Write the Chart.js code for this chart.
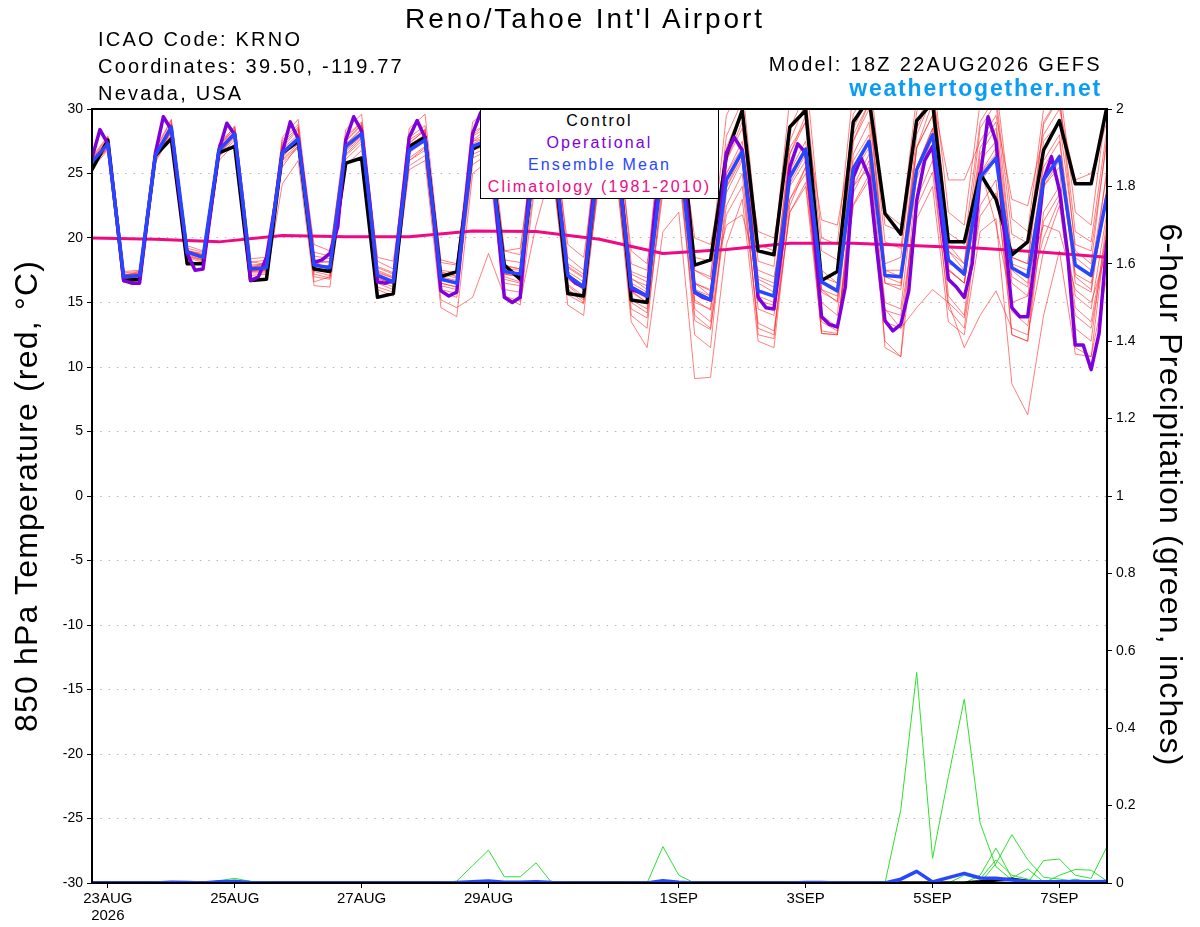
<!DOCTYPE html>
<html>
<head>
<meta charset="utf-8">
<title>Reno/Tahoe Int'l Airport - GEFS 850 hPa Temperature</title>
<script src="https://cdn.jsdelivr.net/npm/chart.js@4.4.1/dist/chart.umd.min.js"></script>
<style>
  html, body { margin: 0; padding: 0; background: #fff; }
  #wrap { position: relative; width: 1200px; height: 927px; overflow: hidden; font-family: 'Liberation Sans', Arial, sans-serif; }
  #chart { position: absolute; left: 0; top: 0; }
  .txt { position: absolute; white-space: nowrap; color: #000; line-height: 1; }
  #title { left: 335px; width: 500px; top: 4.6px; font-size: 28px; letter-spacing: 2.9px; text-align: center; }
  .info { left: 98px; font-size: 20px; letter-spacing: 2.2px; }
  #model { right: 98px; top: 54px; font-size: 20px; letter-spacing: 2.3px; text-align: right; }
  #site { right: 98px; top: 77px; font-size: 23px; font-weight: bold; letter-spacing: 1.8px; color: #0a9df5; text-align: right; }
  #legend { position: absolute; left: 480px; top: 109px; width: 237px; height: 88px; background: #fff; border: 1px solid #000; font-size: 16px; letter-spacing: 2.1px; text-align: center; }
  #legend div { height: 22px; line-height: 22px; }
  .axt { position: absolute; width: 700px; height: 40px; line-height: 40px; font-size: 32px; letter-spacing: 1.2px; text-align: center; white-space: nowrap; }
  #ytitle { left: -324px; top: 476px; transform: rotate(-90deg); }
  #y1title { left: 821px; top: 475px; transform: rotate(90deg); }
</style>
</head>
<body>
<div id="wrap">
  <canvas id="chart" width="1200" height="927"></canvas>
  <div id="title" class="txt">Reno/Tahoe Int'l Airport</div>
  <div class="txt info" style="top:28.8px">ICAO Code: KRNO</div>
  <div class="txt info" style="top:55.8px">Coordinates: 39.50, -119.77</div>
  <div class="txt info" style="top:83.1px">Nevada, USA</div>
  <div id="model" class="txt">Model: 18Z 22AUG2026 GEFS</div>
  <div id="site" class="txt">weathertogether.net</div>
  <div id="legend">
    <div style="color:#000">Control</div>
    <div style="color:#8000dc">Operational</div>
    <div style="color:#2846ff">Ensemble Mean</div>
    <div style="color:#ee0a82">Climatology (1981-2010)</div>
  </div>
  <div id="ytitle" class="axt">850 hPa Temperature (red, °C)</div>
  <div id="y1title" class="axt">6-hour Precipitation (green, inches)</div>
</div>
<script>
// x axis: hours after 18Z 22AUG2026
const xTickHours = [6, 54, 102, 150, 222, 270, 318, 366];
const xTickLabels = [['23AUG', '2026'], '25AUG', '27AUG', '29AUG', '1SEP', '3SEP', '5SEP', '7SEP'];

// 6-hourly 850 hPa temperature (C)
const tempControl = [
  25.3,27.6,16.7,16.8, 26.4,27.7,18.0,18.0, 26.6,27.1,16.7,16.8, 26.6,27.5,17.6,17.4,
  25.8,26.2,15.4,15.7, 27.1,27.8,17.0,17.4, 26.9,27.5,17.9,16.8, 27.2,27.8,15.7,15.5,
  27.5,28.5,15.2,15.0, 28.5,29.8,17.9,18.3, 26.4,29.9,19.0,18.7, 28.6,29.9,16.7,17.4,
  29.0,30.8,21.9,20.3, 29.1,30.5,19.7,19.7, 25.0,23.0,18.7,19.7, 26.8,29.1,24.2,24.2,
  30.2
];
const tempMean = [
  25.9,27.3,17.0,17.1, 26.4,28.6,18.9,18.5, 26.8,28.1,17.6,17.7, 26.6,27.7,17.9,17.7,
  27.1,28.1,17.1,16.6, 26.8,27.6,16.8,16.5, 27.1,27.6,17.4,17.2, 27.0,27.6,17.1,16.2,
  26.6,27.5,16.2,15.5, 26.0,27.2,15.8,15.2, 24.5,26.7,15.9,15.5, 24.7,26.9,16.6,15.9,
  25.4,27.5,17.1,17.0, 25.3,28.0,18.3,17.2, 24.7,26.2,17.7,17.0, 24.5,26.3,17.9,17.1,
  23.3
];
// operational run is 3-hourly
const tempOper = [
  26.2,28.4,27.3,22.2,16.7,16.5,16.5,21.6,
  26.6,29.4,28.4,23.4,18.8,17.5,17.6,22.2,
  26.8,28.9,28.0,22.9,16.7,17.0,18.5,22.2,
  26.6,29.0,27.7,22.9,18.1,18.3,18.8,20.9,
  27.6,29.4,28.3,22.9,16.6,16.5,16.7,22.2,
  27.8,29.1,27.8,22.2,15.9,15.5,15.8,22.2,
  28.1,29.7,28.5,22.0,15.4,15.0,15.4,22.9,
  27.5,29.0,28.0,22.5,17.1,16.5,16.2,22.0,
  27.5,29.0,28.0,22.0,16.0,15.8,15.5,22.2,
  26.5,28.5,27.5,22.7,15.8,15.4,15.2,20.3,
  26.6,27.8,26.8,21.6,15.4,14.6,14.5,19.3,
  25.5,27.3,26.6,20.9,13.9,13.3,13.1,16.2,
  24.7,26.2,24.7,19.0,13.6,12.8,13.3,15.9,
  22.9,26.0,27.1,22.0,16.8,16.2,15.4,18.0,
  24.7,29.4,27.5,20.9,14.6,13.9,13.9,18.8,
  24.5,26.3,23.7,19.0,11.7,11.7,9.8,12.6,
  19.8
];
// daily climatology (1981-2010)
const tempClimo = [20.0,19.9,19.7,20.2,20.1,20.1,20.55,20.5,19.9,18.8,19.1,19.6,19.6,19.4,19.2,18.9,18.5];

// ensemble members, 6-hourly
const tempMembers = [
  [26.2,27.8,17.3,17.4, 26.8,29.1,19.2,18.9, 27.3,28.6,18.1,18.3, 27.4,28.6,18.6,18.4, 27.9,29.0,17.8,17.3, 27.8,28.7,17.5,17.3, 28.2,28.9,18.3,18.1, 28.4,29.3,18.0,17.2, 28.5,29.6,17.4,16.9, 28.3,29.8,17.5,17.0, 27.9,30.6,18.2,17.8, 28.5,31.2,19.0,18.3, 29.6,31.5,19.7,19.2, 29.8,32.0,20.4,19.5, 29.0,31.0,20.3,19.6, 28.8,30.9,20.5,19.7, 28.5],
  [25.6,26.9,16.7,16.8, 26.0,28.2,18.5,18.1, 26.3,27.6,17.1,17.2, 25.8,27.0,17.2,16.9, 26.1,27.3,16.2,15.8, 25.6,26.4,15.8,15.4, 25.7,26.5,16.0,15.8, 25.2,25.9,15.6,14.9, 24.5,25.6,14.5,13.8, 23.6,25.1,13.6,12.9, 21.8,24.0,13.4,12.8, 22.0,24.3,14.0,13.1, 22.6,24.9,14.4,14.0, 22.4,25.1,15.0,13.8, 21.7,23.5,14.3,13.2, 21.3,23.4,14.6,13.5, 20.5],
  [25.8,27.5,17.1,17.3, 26.5,28.4,19.0,18.7, 26.6,28.3,17.4,17.5, 26.2,27.9,18.2,17.5, 26.7,27.8,16.9,16.4, 26.0,26.8,15.2,14.6, 15.4,18.8,15.5,15.1, 21.0,25.5,16.0,15.2, 26.0,27.3,15.9,15.0, 25.5,27.0,15.2,14.4, 23.9,26.2,15.1,14.8, 24.2,26.5,15.8,15.1, 25.0,27.4,16.5,16.3, 24.6,27.8,17.6,16.5, 24.3,26.1,17.0,16.2, 24.0,26.0,17.2,16.5, 23.0],
  [26.0,27.2,16.9,17.0, 26.3,28.8,18.8,18.4, 26.9,27.9,17.8,17.8, 26.9,28.0,17.6,17.3, 27.3,28.4,17.4,16.9, 27.1,28.0,17.2,16.9, 27.5,27.8,17.0,16.6, 26.6,27.0,16.4,15.5, 25.0,25.8,13.5,11.5, 20.5,22.0,9.1,9.2, 19.5,23.0,12.0,11.5, 22.5,25.5,13.5,12.8, 24.0,26.5,15.0,14.5, 25.5,28.5,17.5,16.5, 25.0,27.0,16.5,15.5, 24.5,26.5,16.5,15.8, 24.0],
  [26.1,27.6,17.2,17.0, 26.6,28.9,18.9,18.6, 27.0,28.5,17.9,18.0, 27.8,29.2,18.9,18.6, 28.4,29.6,18.2,17.6, 28.5,29.6,18.1,17.9, 29.0,29.9,19.0,18.7, 29.5,30.6,18.5,17.5, 30.0,31.3,18.0,17.5, 30.2,31.5,18.5,18.2, 29.5,32.0,19.5,19.0, 30.8,33.0,20.0,19.5, 31.5,33.5,21.0,20.5, 31.0,33.0,22.0,21.0, 30.5,32.0,21.5,20.5, 30.0,32.0,22.0,21.0, 30.5],
  [25.7,27.1,17.0,17.2, 26.2,28.5,18.7,18.3, 26.5,28.0,17.5,17.4, 26.3,27.5,17.7,17.9, 26.8,28.0,17.3,16.9, 26.9,27.7,17.0,16.7, 27.3,27.9,17.6,17.5, 27.4,28.2,17.7,16.9, 27.3,28.4,16.9,16.0, 26.8,28.0,16.5,15.9, 25.0,27.5,16.8,16.2, 25.2,27.5,17.5,16.5, 24.0,25.5,14.5,13.0, 14.6,16.0,15.0,11.5, 14.0,15.9,13.0,12.5, 19.0,22.5,14.0,13.0, 20.0],
  [25.9,27.4,17.0,17.1, 26.4,28.6,19.1,18.6, 26.7,28.2,17.5,17.6, 26.5,27.3,18.3,18.1, 26.9,27.9,17.5,17.0, 27.0,27.9,17.3,17.1, 26.8,27.2,17.8,17.6, 27.2,27.7,17.4,16.6, 26.2,27.0,16.8,16.3, 25.5,26.2,16.5,16.0, 21.0,21.8,17.5,17.0, 23.0,25.0,15.0,14.0, 26.5,29.0,16.5,16.0, 27.0,29.5,18.0,17.5, 26.0,27.5,18.0,17.5, 25.5,27.5,18.5,17.5, 25.0],
  [25.5,27.0,16.8,17.0, 26.1,28.3,18.6,18.3, 26.4,27.8,17.3,17.3, 26.0,27.1,17.0,16.8, 26.4,27.5,16.5,16.0, 26.0,27.0,16.0,15.7, 26.2,26.8,16.5,16.3, 26.0,26.5,16.0,15.0, 25.0,26.0,15.0,14.2, 24.0,25.5,14.0,13.0, 22.5,25.0,13.0,12.5, 22.0,24.0,12.8,12.6, 22.5,24.5,12.0,10.8, 21.5,24.0,13.5,12.5, 20.5,21.5,8.7,6.3, 14.0,19.0,11.0,10.8, 17.0],
  [26.3,27.9,17.4,17.5, 26.9,29.2,19.4,19.0, 27.1,28.7,18.4,18.5, 27.0,28.4,19.5,19.0, 27.5,28.7,18.5,18.2, 27.4,28.3,18.3,18.0, 27.6,28.5,19.0,19.2, 27.8,28.8,19.5,18.5, 27.5,29.0,19.0,18.0, 27.0,29.0,20.0,19.5, 26.0,28.5,20.5,20.0, 27.0,29.0,21.4,21.0, 28.0,30.5,22.0,21.0, 28.5,31.0,24.5,24.5, 27.5,29.5,23.0,22.5, 28.0,30.0,24.5,25.0, 29.0],
  [25.4,26.8,16.6,16.6, 25.9,28.0,18.3,17.9, 26.0,27.3,16.9,16.8, 24.2,26.0,16.3,16.2, 25.6,26.8,16.0,15.5, 25.3,26.0,14.6,13.9, 25.0,26.0,15.5,14.8, 24.8,25.6,14.8,14.0, 25.5,26.5,14.0,13.0, 24.8,26.5,12.5,11.5, 23.5,26.0,12.5,12.2, 24.0,26.0,12.6,12.5, 25.0,27.0,11.5,10.8, 25.5,28.5,15.5,14.0, 25.0,26.5,12.5,12.0, 24.0,25.5,11.5,10.8, 21.0],
  [26.0,27.5,17.1,17.3, 26.5,28.8,18.9,18.5, 26.9,28.3,17.8,17.9, 27.2,28.5,17.5,17.6, 27.6,28.8,17.0,16.7, 27.3,28.4,16.9,16.4, 27.9,28.6,17.2,17.0, 28.0,29.0,17.0,16.0, 28.0,29.2,16.0,15.3, 28.5,30.5,16.5,15.5, 27.0,30.0,16.5,15.8, 27.5,30.5,17.0,16.5, 28.5,31.0,18.0,18.5, 29.0,31.5,19.0,18.0, 28.5,30.5,18.5,18.0, 29.0,31.0,19.0,18.0, 28.0],
  [25.8,27.3,17.0,17.0, 26.3,28.5,18.8,18.5, 26.8,28.1,17.7,17.6, 26.6,27.6,17.9,17.7, 27.0,28.1,17.0,16.4, 26.6,27.5,16.5,16.2, 27.0,27.5,17.2,17.0, 27.0,27.8,16.8,16.0, 26.8,27.7,15.8,15.0, 26.5,27.5,15.0,14.5, 25.0,27.0,15.5,15.0, 25.0,27.0,16.0,15.5, 26.0,28.0,17.0,16.5, 27.0,29.5,17.5,16.5, 25.5,21.0,15.0,15.5, 20.0,23.0,15.5,14.5, 22.0],
  [26.1,27.7,17.1,17.4, 26.7,28.7,19.0,18.8, 27.2,28.4,18.2,17.9, 27.6,28.8,18.0,18.2, 27.8,28.9,17.7,17.2, 27.6,28.4,17.4,17.0, 28.0,28.9,17.9,17.6, 28.0,28.7,17.8,17.0, 27.5,28.5,17.2,16.6, 27.0,28.5,17.5,16.8, 26.5,29.5,17.0,16.5, 26.5,29.0,16.0,15.0, 27.5,30.0,17.5,17.0, 28.0,31.0,19.5,18.0, 27.0,29.0,18.5,18.0, 27.5,29.0,19.5,19.0, 27.5],
  [25.6,27.0,16.8,16.9, 26.2,28.3,18.6,18.2, 26.5,27.9,17.4,17.5, 26.1,27.3,17.4,17.1, 26.5,27.7,16.7,16.2, 26.2,27.1,16.3,16.0, 26.5,27.0,16.8,16.5, 26.3,27.0,16.3,15.3, 26.0,27.0,15.2,14.5, 25.8,27.2,14.5,13.5, 24.0,26.5,14.5,14.0, 23.0,25.5,12.6,12.5, 23.5,26.0,13.5,13.0, 23.0,26.0,14.5,13.0, 22.5,24.5,12.5,12.0, 22.0,24.0,13.0,12.0, 21.5],
  [26.0,27.4,17.2,17.2, 26.6,28.7,19.0,18.7, 27.0,28.2,17.6,18.2, 25.5,27.2,16.6,17.0, 27.2,28.5,16.8,16.5, 27.2,28.0,16.5,16.2, 27.5,28.2,17.5,17.2, 27.6,28.5,17.2,16.3, 27.8,29.0,16.5,15.8, 27.5,29.5,16.0,15.5, 26.0,29.0,16.0,15.5, 26.5,29.5,16.5,16.0, 27.5,30.5,17.5,17.5, 27.0,30.5,19.0,17.5, 26.5,28.5,17.5,16.5, 26.0,28.0,17.0,16.0, 25.5],
  [25.8,27.2,17.1,17.0, 26.5,28.5,18.8,18.6, 26.7,28.2,17.5,17.8, 26.7,27.8,17.8,17.8, 27.0,28.2,17.2,16.7, 26.9,27.5,16.9,16.6, 27.0,27.7,17.3,17.1, 27.1,27.5,17.2,16.3, 26.5,27.6,16.3,15.6, 26.1,27.1,15.9,15.3, 24.6,26.6,16.0,15.4, 24.8,26.8,16.5,16.0, 25.3,27.6,17.2,16.9, 25.4,27.9,18.2,17.3, 24.6,26.3,17.6,17.1, 21.0,20.5,16.0,15.0, 19.0]
];

// 6-hourly precipitation (inches)
const precipMean = [
  0,0,0,0, 0,0.002,0.001,0, 0.003,0.004,0.001,0, 0,0,0,0,
  0,0,0,0, 0,0,0,0.001, 0.003,0.005,0.002,0.002, 0.003,0.001,0,0,
  0,0,0,0, 0.006,0.002,0,0, 0,0,0,0, 0,0.001,0.001,0,
  0,0,0,0.01, 0.03,0.003,0.014,0.025, 0.013,0.012,0.008,0.004, 0.003,0.003,0.004,0.003,
  0.004
];
const precipControl = [
  0,0,0,0, 0,0,0,0, 0,0,0,0, 0,0,0,0,
  0,0,0,0, 0,0,0,0, 0,0,0,0, 0,0,0,0,
  0,0,0,0, 0,0,0,0, 0,0,0,0, 0,0,0,0,
  0,0,0,0, 0,0,0,0, 0.003,0.008,0.01,0.004, 0.001,0,0,0,
  0
];
const precipMembers = [
  [0,0,0,0, 0,0,0,0, 0.006,0.012,0.004,0, 0,0,0,0, 0,0,0,0, 0,0,0,0.005, 0.045,0.085,0.016,0.016, 0.052,0,0,0, 0,0,0,0, 0,0,0,0, 0,0,0,0, 0,0,0,0, 0,0,0,0, 0,0,0,0, 0,0,0,0, 0,0,0,0, 0],
  [0,0,0,0, 0,0.004,0,0, 0,0.008,0,0, 0,0,0,0, 0,0,0,0, 0,0,0,0, 0,0,0,0, 0,0,0,0, 0,0,0,0, 0.094,0.02,0,0, 0,0,0,0, 0,0,0,0, 0,0,0,0, 0,0,0,0, 0,0,0,0, 0,0,0,0, 0],
  [0,0,0,0, 0,0,0,0, 0,0,0,0, 0,0,0,0, 0,0,0,0, 0,0,0,0, 0,0,0,0, 0,0,0,0, 0,0,0,0, 0,0,0,0, 0,0,0,0, 0,0,0,0, 0,0,0,0.19, 0.544,0.064,0.275,0.475, 0.155,0.042,0.008,0, 0,0,0,0, 0],
  [0,0,0,0, 0,0,0,0, 0,0,0,0, 0,0,0,0, 0,0,0,0, 0,0,0,0, 0,0,0,0, 0,0,0,0, 0,0,0,0, 0,0,0,0, 0,0,0,0, 0,0,0,0, 0,0,0,0, 0,0,0,0, 0.02,0.09,0.013,0.036, 0.003,0,0,0, 0],
  [0,0,0,0, 0,0,0,0, 0,0,0,0, 0,0,0,0, 0,0,0,0, 0,0,0,0, 0,0,0,0, 0,0,0,0, 0,0,0,0, 0,0,0,0, 0,0,0,0, 0,0,0,0, 0,0,0,0, 0,0,0,0, 0,0.05,0.125,0.06, 0.015,0.01,0.004,0, 0],
  [0,0,0,0, 0,0,0,0, 0,0,0,0, 0,0,0,0, 0,0,0,0, 0,0,0,0, 0,0,0,0, 0,0,0,0, 0,0,0,0, 0,0,0,0, 0,0,0,0, 0,0,0,0, 0,0,0,0, 0,0,0,0, 0,0,0,0, 0.058,0.062,0.02,0.012, 0.094],
  [0,0,0,0, 0,0,0,0, 0,0,0,0, 0,0,0,0, 0,0,0,0, 0,0,0,0, 0,0,0,0, 0,0,0,0, 0,0.004,0,0, 0,0,0,0, 0,0,0,0, 0,0,0,0, 0,0,0,0, 0,0,0,0, 0,0,0,0, 0,0.02,0.035,0.033, 0.005],
  [0,0,0,0, 0,0,0,0, 0,0,0,0, 0,0,0,0, 0,0,0,0, 0,0,0,0, 0,0,0,0, 0,0,0,0, 0,0,0,0, 0,0,0,0, 0,0,0,0, 0,0,0,0, 0,0,0,0, 0,0,0,0.02, 0.01,0.06,0.02,0.01, 0,0,0.01,0, 0]
];

// turn a list of values into {x: hour, y} points
function series(values, stepHours) {
  return values.map((v, i) => ({ x: i * stepHours, y: v }));
}

const datasets = [];

tempMembers.forEach((m, k) => {
  datasets.push({
    label: 'Member ' + (k + 1),
    data: series(m, 6),
    yAxisID: 'y',
    borderColor: 'rgba(255, 40, 40, 0.75)',
    borderWidth: 0.8,
    order: 9
  });
});

precipMembers.forEach((m, k) => {
  datasets.push({
    label: 'Precip member ' + (k + 1),
    data: series(m, 6),
    yAxisID: 'y1',
    borderColor: '#2ee02e',
    borderWidth: 1,
    order: 8
  });
});

datasets.push({ label: 'Control precip', data: series(precipControl, 6), yAxisID: 'y1', borderColor: '#000', borderWidth: 3.5, order: 6 });
datasets.push({ label: 'Mean precip', data: series(precipMean, 6), yAxisID: 'y1', borderColor: '#2846ff', borderWidth: 3.5, order: 5 });
datasets.push({ label: 'Climatology (1981-2010)', data: series(tempClimo, 24), yAxisID: 'y', borderColor: '#ee0a82', borderWidth: 3, order: 4 });
datasets.push({ label: 'Control', data: series(tempControl, 6), yAxisID: 'y', borderColor: '#000', borderWidth: 3.5, order: 3 });
datasets.push({ label: 'Operational', data: series(tempOper, 3), yAxisID: 'y', borderColor: '#8000dc', borderWidth: 3.5, order: 2 });
datasets.push({ label: 'Ensemble Mean', data: series(tempMean, 6), yAxisID: 'y', borderColor: '#2846ff', borderWidth: 3.5, order: 1 });

// black box around the plot area, drawn over the lines
const framePlugin = {
  id: 'frame',
  afterDatasetsDraw(chart) {
    const { ctx, chartArea: a } = chart;
    ctx.save();
    ctx.strokeStyle = '#000';
    ctx.lineWidth = 2;
    ctx.strokeRect(a.left, a.top, a.right - a.left, a.bottom - a.top);
    ctx.restore();
  }
};

const tickFont = { family: "'Liberation Sans', Arial, sans-serif", size: 14 };

new Chart(document.getElementById('chart').getContext('2d'), {
  type: 'line',
  data: { datasets: datasets },
  options: {
    responsive: false,
    animation: false,
    devicePixelRatio: 1,
    layout: { padding: { top: 109, left: 0, right: 0, bottom: 0 } },
    elements: {
      point: { radius: 0, hoverRadius: 0 },
      line: { tension: 0, fill: false, borderCapStyle: 'round', borderJoinStyle: 'round' }
    },
    plugins: {
      legend: { display: false },
      tooltip: { enabled: false },
      title: { display: false }
    },
    events: [],
    scales: {
      x: {
        type: 'linear',
        min: 0,
        max: 384,
        afterBuildTicks: (axis) => {
          axis.ticks = xTickHours.map(v => ({ value: v }));
        },
        afterFit: (axis) => { axis.height = 44; },
        ticks: {
          autoSkip: false,
          maxRotation: 0,
          padding: 3,
          color: '#000',
          font: { family: "'Liberation Sans', Arial, sans-serif", size: 15, lineHeight: 1.1 },
          callback: (value, index) => xTickLabels[index]
        },
        grid: { drawOnChartArea: false, tickLength: 5, tickColor: '#000', tickWidth: 1 },
        border: { display: false }
      },
      y: {
        position: 'left',
        min: -30,
        max: 30,
        afterFit: (axis) => { axis.width = 92; },
        ticks: { stepSize: 5, padding: 4, color: '#000', font: tickFont },
        grid: {
          color: '#b4b4b4',
          lineWidth: 1,
          tickLength: 5,
          tickColor: '#000',
          tickWidth: 1,
          tickBorderDash: []
        },
        border: { display: false, dash: [1.5, 6.8] }
      },
      y1: {
        position: 'right',
        min: 0,
        max: 2,
        afterFit: (axis) => { axis.width = 93; },
        ticks: {
          stepSize: 0.2,
          padding: 4,
          color: '#000',
          font: tickFont,
          callback: (value) => String(Number(value.toFixed(1)))
        },
        grid: { drawOnChartArea: false, tickLength: 5, tickColor: '#000', tickWidth: 1 },
        border: { display: false }
      }
    }
  },
  plugins: [framePlugin]
});
</script>
</body>
</html>
